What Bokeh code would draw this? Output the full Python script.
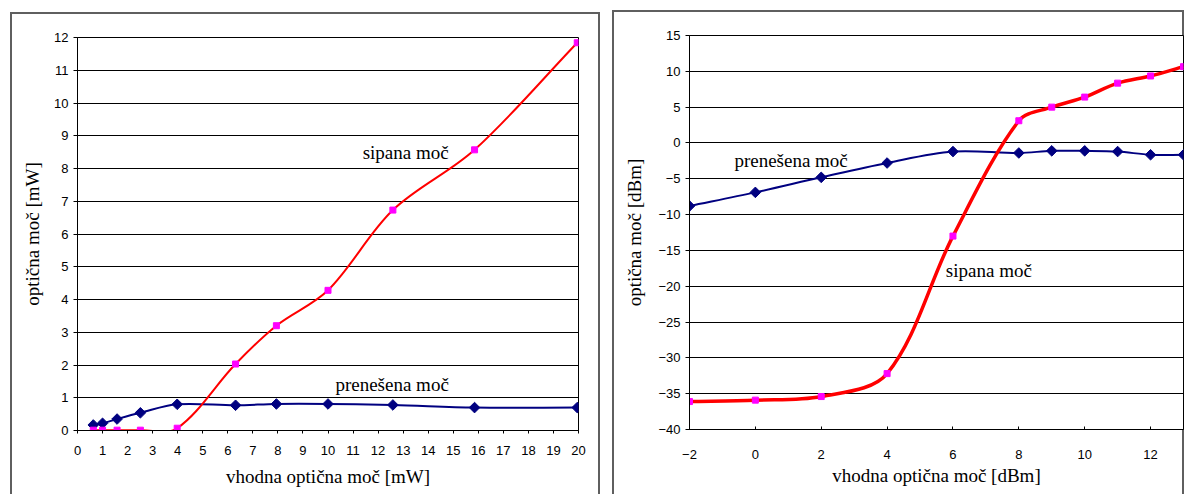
import numpy as np
from bokeh.plotting import figure
from bokeh.models import Range1d, FixedTicker, Spacer
from bokeh.layouts import row, column
from bokeh.core.properties import value
from bokeh.embed import file_html
from bokeh.resources import INLINE

# ---------------- data ----------------
# left chart: linear units [mW]
mw_input = [0.63, 1.0, 1.58, 2.51, 3.98, 6.31, 7.94, 10.0, 12.59, 15.85, 19.95]
mw_scattered = [0.01, 0.01, 0.01, 0.01, 0.07, 2.03, 3.2, 4.28, 6.73, 8.57, 11.84]
mw_transmitted = [0.17, 0.22, 0.35, 0.54, 0.80, 0.77, 0.81, 0.81, 0.78, 0.70, 0.70]

# right chart: logarithmic units [dBm]
dbm_input = [-2, 0, 2, 4, 6, 8, 9, 10, 11, 12, 13]
dbm_scattered = [-36.1, -35.9, -35.4, -32.2, -13.0, 3.1, 5.0, 6.4, 8.35, 9.35, 10.65]
dbm_transmitted = [-8.8, -6.9, -4.8, -2.8, -1.2, -1.4, -1.1, -1.1, -1.2, -1.65, -1.65]

left_xticks = list(range(0, 21))
left_yticks = list(range(0, 13))
right_xticks = [-2, 0, 2, 4, 6, 8, 10, 12]
right_yticks = [-40, -35, -30, -25, -20, -15, -10, -5, 0, 5, 10, 15]

label_scattered = "sipana moč"
label_transmitted = "prenešena moč"

SERIF = "Liberation Serif"
SANS = "Liberation Sans"
BORDER = "#5f5f5f"

L_FRAME_W, L_FRAME_H = 501, 393
R_FRAME_W, R_FRAME_H = 495, 394


def smooth(xs, ys, xr, yr, fw, fh):
    """Bezier segments of an Excel-like smoothed line, computed in screen space."""
    sx = fw / (xr[1] - xr[0])
    sy = fh / (yr[1] - yr[0])
    P = np.column_stack([np.asarray(xs, float) * sx, np.asarray(ys, float) * sy])
    n = len(P)
    out = {k: [] for k in ("x0", "y0", "x1", "y1", "cx0", "cy0", "cx1", "cy1")}
    for i in range(n - 1):
        p0 = P[max(i - 1, 0)]
        p1 = P[i]
        p2 = P[i + 1]
        p3 = P[min(i + 2, n - 1)]
        d01 = np.hypot(*(p1 - p0))
        d12 = np.hypot(*(p2 - p1))
        d23 = np.hypot(*(p3 - p2))
        c1 = p1 + (p2 - p0) * (d12 / (d01 + d12)) / 3.0
        c2 = p2 - (p3 - p1) * (d12 / (d12 + d23)) / 3.0
        out["x0"].append(p1[0] / sx); out["y0"].append(p1[1] / sy)
        out["x1"].append(p2[0] / sx); out["y1"].append(p2[1] / sy)
        out["cx0"].append(c1[0] / sx); out["cy0"].append(c1[1] / sy)
        out["cx1"].append(c2[0] / sx); out["cy1"].append(c2[1] / sy)
    return out


def style(p, xlabel, ylabel, xticks, yticks, xtick_in, xtick_out,
          xlab_standoff, xtitle_standoff, ytitle_standoff):
    p.xgrid.grid_line_color = None
    p.ygrid.grid_line_color = "black"
    p.ygrid.grid_line_width = 1
    p.ygrid.ticker = FixedTicker(ticks=yticks)
    p.xaxis.ticker = FixedTicker(ticks=xticks)
    p.yaxis.ticker = FixedTicker(ticks=yticks)
    p.outline_line_color = "black"
    p.outline_line_width = 1
    p.background_fill_color = "white"
    p.border_fill_color = None
    for ax in (p.xaxis, p.yaxis):
        ax.axis_line_color = "black"
        ax.axis_line_width = 1
        ax.major_tick_line_color = "black"
        ax.minor_tick_line_color = None
        ax.major_label_text_font = SANS
        ax.major_label_text_font_size = "13px"
        ax.major_label_text_color = "black"
        ax.axis_label_text_font = SERIF
        ax.axis_label_text_font_size = "19px"
        ax.axis_label_text_font_style = "normal"
        ax.axis_label_text_color = "black"
    p.xaxis.axis_label = xlabel
    p.yaxis.axis_label = ylabel
    p.xaxis.major_tick_in = xtick_in
    p.xaxis.major_tick_out = xtick_out
    p.yaxis.major_tick_in = 0
    p.yaxis.major_tick_out = 4
    p.yaxis.major_label_standoff = 5
    p.xaxis.major_label_standoff = xlab_standoff
    p.yaxis.axis_label_standoff = ytitle_standoff
    p.xaxis.axis_label_standoff = xtitle_standoff


box_style = {"box-shadow": f"inset 2px 2px 0 {BORDER}, inset -2px 0 0 {BORDER}"}

# ---------------- left chart ----------------
lx, ly = (0, 20), (0, 12)
p1 = figure(width=590, height=482, output_backend="svg", toolbar_location=None,
            x_range=Range1d(*lx), y_range=Range1d(*ly),
            min_border_left=67, min_border_right=22, min_border_top=25,
            min_border_bottom=64, styles=box_style)
style(p1, "vhodna optična moč [mW]", "optična moč [mW]",
      left_xticks, left_yticks, 0, 3, 12, 8, 8)

p1.bezier(**smooth(mw_input, mw_transmitted, lx, ly, L_FRAME_W, L_FRAME_H),
          line_color="#000080", line_width=2)
p1.scatter(mw_input, mw_transmitted, marker="square", angle=np.pi / 4, size=7.5,
           fill_color="#000080", line_color="#000080")
p1.bezier(**smooth(mw_input, mw_scattered, lx, ly, L_FRAME_W, L_FRAME_H),
          line_color="#ff0000", line_width=2)
p1.scatter(mw_input, mw_scattered, marker="square", size=6,
           fill_color="#ff00ff", line_color="#ff00ff")
p1.text(x=[13.1], y=[8.49], text=[label_scattered], text_font=value(SERIF),
        text_font_size="19px", text_align="center", text_baseline="middle",
        text_color="black")
p1.text(x=[12.56], y=[1.40], text=[label_transmitted], text_font=value(SERIF),
        text_font_size="19px", text_align="center", text_baseline="middle",
        text_color="black")

# ---------------- right chart ----------------
rx, ry = (-2, 13), (-40, 15)
p2 = figure(width=572, height=484, output_backend="svg", toolbar_location=None,
            x_range=Range1d(*rx), y_range=Range1d(*ry),
            min_border_left=77, min_border_right=1, min_border_top=25,
            min_border_bottom=65, styles=box_style)
style(p2, "vhodna optična moč [dBm]", "optična moč [dBm]",
      right_xticks, right_yticks, 3, 0, 20, 3, 10)

p2.bezier(**smooth(dbm_input, dbm_transmitted, rx, ry, R_FRAME_W, R_FRAME_H),
          line_color="#000080", line_width=2)
p2.scatter(dbm_input, dbm_transmitted, marker="square", angle=np.pi / 4, size=7.5,
           fill_color="#000080", line_color="#000080")
p2.bezier(**smooth(dbm_input, dbm_scattered, rx, ry, R_FRAME_W, R_FRAME_H),
          line_color="#ff0000", line_width=3.5)
p2.scatter(dbm_input, dbm_scattered, marker="square", size=6,
           fill_color="#ff00ff", line_color="#ff00ff")
p2.text(x=[1.085], y=[-2.44], text=[label_transmitted], text_font=value(SERIF),
        text_font_size="19px", text_align="center", text_baseline="middle",
        text_color="black")
p2.text(x=[7.09], y=[-17.8], text=[label_scattered], text_font=value(SERIF),
        text_font_size="19px", text_align="center", text_baseline="middle",
        text_color="black")

layout = row(Spacer(width=10, height=494),
             column(Spacer(width=590, height=12), p1),
             Spacer(width=12, height=494),
             column(Spacer(width=572, height=10), p2))

open("out.html", "w").write(file_html(layout, INLINE))
